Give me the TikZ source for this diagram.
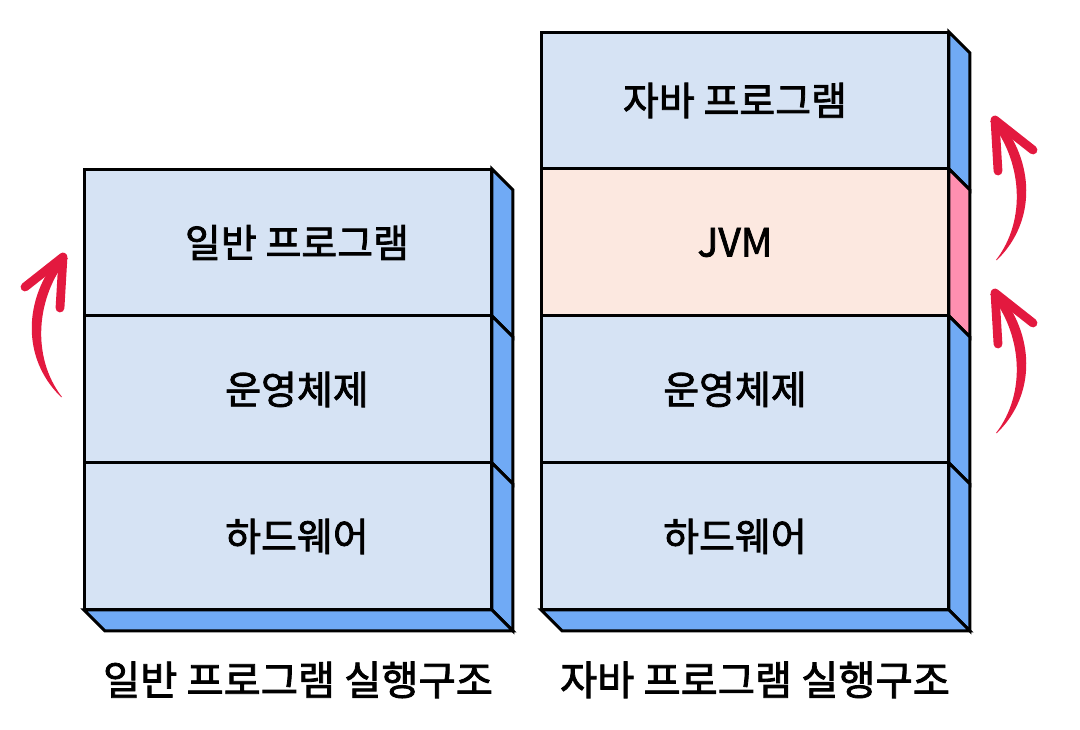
\documentclass[tikz,border=0pt]{standalone}
\usepackage{fontspec}
\newfontfamily\krfont[FakeBold=2]{Noto Sans CJK KR}
\usepackage{tikz}
\usetikzlibrary{positioning}
\definecolor{frontblue}{HTML}{D6E3F4}
\definecolor{sideblue}{HTML}{70AAF5}
\definecolor{frontpink}{HTML}{FCE8E0}
\definecolor{sidepink}{HTML}{FF8FB0}
\definecolor{arrowred}{HTML}{E3193F}
\tikzstyle{layer} = [rectangle, draw=black, fill=frontblue, line width=1.7pt,
  minimum width=8.16cm, minimum height=2.94cm, outer sep=0pt, inner sep=0pt]
\tikzstyle{layertext} = [font=\krfont\fontsize{22.2}{26}\selectfont, text=black]
\tikzstyle{caption} = [font=\krfont\fontsize{23}{28}\selectfont, text=black]
\tikzstyle{rim} = [draw=black, line width=1.7pt]
% side face of a layer, offset 21px right and down
\newcommand{\sideof}[2]{\filldraw[rim, fill=#2] (#1.north east) -- ++(21,21)
  -- ([shift={(21,21)}]#1.south east) -- (#1.south east) -- cycle;}
\newcommand{\baseof}[1]{\filldraw[rim, fill=sideblue] (#1.south west) -- ++(21,21)
  -- ([shift={(21,21)}]#1.south east) -- (#1.south east) -- cycle;}
% hand drawn upward arrow, tip at #1, #2 = 1 or -1 for mirror
\newcommand{\swoosh}[2]{\begin{scope}[shift={#1}, xscale=#2]
  \fill[arrowred] (-2,140) .. controls (-43,100) and (-38,40) .. (-5,1)
    -- (5,1) .. controls (-27,40) and (-32,100) .. (-1,140) -- cycle;
  \draw[arrowred, line width=5pt, line cap=round, line join=round]
    (-38,30) -- (0,0) -- (-3,51);
  \end{scope}}

\begin{document}
\begin{tikzpicture}[x=0.02cm, y=-0.02cm]
  \useasboundingbox (0,0) rectangle (1080,730);

  % general program stack
  \node (gen) [layer] at (288,242.5) {};
  \node (os1) [layer, below=0pt of gen] {};
  \node (hw1) [layer, below=0pt of os1] {};
  \sideof{gen}{sideblue}
  \sideof{os1}{sideblue}
  \sideof{hw1}{sideblue}
  \baseof{hw1}
  \node (gentext) [layertext] at ([xshift=0.18cm]gen.center) {일반 프로그램};
  \node (os1text) [layertext] at ([xshift=0.18cm]os1.center) {운영체제};
  \node (hw1text) [layertext] at ([xshift=0.18cm]hw1.center) {하드웨어};
  \node (genlabel) [caption] at ([shift={(10,70)}]hw1.south) {일반 프로그램 실행구조};

  % java program stack
  \node (java) [layer, minimum height=2.74cm] at (745,100.5) {};
  \node (jvm)  [layer, fill=frontpink, below=0pt of java] {};
  \node (os2)  [layer, below=0pt of jvm] {};
  \node (hw2)  [layer, below=0pt of os2] {};
  \sideof{java}{sideblue}
  \sideof{jvm}{sidepink}
  \sideof{os2}{sideblue}
  \sideof{hw2}{sideblue}
  \baseof{hw2}
  \node (javatext) [layertext] at ([xshift=-0.2cm]java.center) {자바 프로그램};
  \node (jvmtext)  [layertext] at ([xshift=-0.2cm]jvm.center) {JVM};
  \node (os2text)  [layertext] at ([xshift=-0.2cm]os2.center) {운영체제};
  \node (hw2text)  [layertext] at ([xshift=-0.2cm]hw2.center) {하드웨어};
  \node (javalabel) [caption] at ([shift={(10,70)}]hw2.south) {자바 프로그램 실행구조};

  % arrows
  \swoosh{(63,257)}{1}
  \swoosh{(995,120)}{-1}
  \swoosh{(995,293)}{-1}
\end{tikzpicture}
\end{document}
